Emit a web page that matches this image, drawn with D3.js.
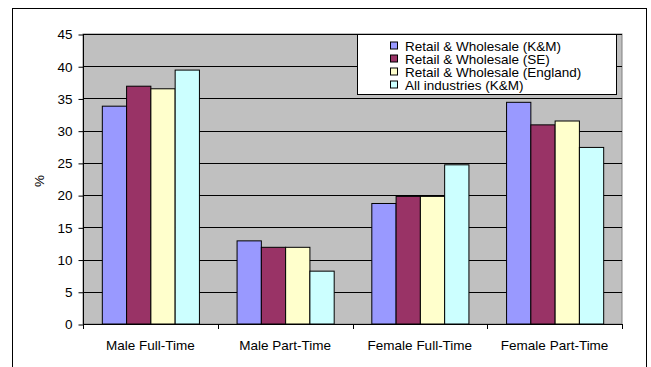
<!DOCTYPE html>
<html>
<head>
<meta charset="utf-8">
<script src="https://cdn.jsdelivr.net/npm/d3@7"></script>
<style>
  html, body { margin: 0; padding: 0; background: #fff; }
  svg { display: block; }
  text { font-family: "Liberation Sans", Arial, sans-serif; fill: #000; }
</style>
</head>
<body>
<svg id="chart" width="651" height="367"></svg>
<script>
// Employment shares by work pattern (%)
const categories = ["Male Full-Time", "Male Part-Time", "Female Full-Time", "Female Part-Time"];
const seriesNames = [
  "Retail & Wholesale (K&M)",
  "Retail & Wholesale (SE)",
  "Retail & Wholesale (England)",
  "All industries (K&M)"
];
const retailKM = [33.8, 12.9, 18.7, 34.4];
const retailSE = [36.9, 11.9, 19.8, 30.9];
const retailEngland = [36.5, 11.9, 19.8, 31.5];
const allIndustriesKM = [39.4, 8.2, 24.7, 27.4];
const yTicks = [0, 5, 10, 15, 20, 25, 30, 35, 40, 45];
const colors = ["#9999FF", "#993366", "#FFFFCC", "#CCFFFF"];

const seriesValues = [retailKM, retailSE, retailEngland, allIndustriesKM];

const svg = d3.select("#chart");
const fontSize = 13.5;

// chart frame
svg.append("rect")
  .attr("x", 12.5).attr("y", 8.5)
  .attr("width", 634).attr("height", 370)
  .attr("fill", "#fff").attr("stroke", "#000").attr("stroke-width", 1);

const plot = { left: 83, right: 622, top: 34, bottom: 324 };

const x0 = d3.scaleBand().domain(categories).range([plot.left, plot.right]).padding(0);
const gapRatio = 1.55;
const barW = x0.bandwidth() / (seriesNames.length + gapRatio);
const x1 = d3.scaleBand().domain(d3.range(seriesNames.length))
  .range([barW * gapRatio / 2, barW * gapRatio / 2 + barW * seriesNames.length]).padding(0);
const y = d3.scaleLinear().domain([0, 45]).range([plot.bottom, plot.top]);

// plot background
svg.append("rect")
  .attr("x", plot.left).attr("y", plot.top)
  .attr("width", plot.right - plot.left).attr("height", plot.bottom - plot.top)
  .attr("fill", "#C0C0C0").attr("stroke", "#808080").attr("stroke-width", 1);

// gridlines
svg.append("g").selectAll("line").data(yTicks.filter(d => d > 0)).join("line")
  .attr("x1", plot.left).attr("x2", plot.right)
  .attr("y1", d => Math.round(y(d)) + 0.5).attr("y2", d => Math.round(y(d)) + 0.5)
  .attr("stroke", "#000").attr("stroke-width", 1);

// bars
const groups = svg.append("g").selectAll("g").data(categories).join("g")
  .attr("transform", c => `translate(${x0(c)},0)`);
groups.selectAll("rect").data((c, ci) => seriesValues.map((vals, si) => ({ si, v: vals[ci] })))
  .join("rect")
  .attr("x", d => x1(d.si) + 0.5)
  .attr("y", d => y(d.v))
  .attr("width", x1.bandwidth())
  .attr("height", d => y(0) - y(d.v))
  .attr("fill", d => colors[d.si])
  .attr("stroke", "#000").attr("stroke-width", 1);

// y axis
const yAxis = d3.axisLeft(y).tickValues(yTicks).tickSize(5).tickPadding(6);
const gy = svg.append("g").attr("transform", `translate(${plot.left + 0.5},0.5)`).call(yAxis);
gy.select(".domain").attr("d", `M0,${plot.top}V${plot.bottom}`).attr("stroke", "#000");
gy.selectAll(".tick line").attr("stroke", "#000");
gy.selectAll("text").style("font-size", fontSize + "px")
  .style("font-family", '"Liberation Sans", Arial, sans-serif').attr("fill", "#000");

// x axis with ticks at category boundaries
const gx = svg.append("g");
gx.append("line")
  .attr("x1", plot.left).attr("x2", plot.right)
  .attr("y1", plot.bottom + 0.5).attr("y2", plot.bottom + 0.5)
  .attr("stroke", "#000");
const boundaries = categories.map(c => x0(c)).concat([x0(categories[categories.length - 1]) + x0.bandwidth()]);
gx.selectAll("line.tk").data(boundaries).join("line").attr("class", "tk")
  .attr("x1", d => Math.round(d) + 0.5).attr("x2", d => Math.round(d) + 0.5)
  .attr("y1", plot.bottom).attr("y2", plot.bottom + 5)
  .attr("stroke", "#000");
gx.selectAll("text").data(categories).join("text")
  .attr("x", c => x0(c) + x0.bandwidth() / 2)
  .attr("y", 350)
  .attr("text-anchor", "middle")
  .style("font-size", fontSize + "px")
  .text(c => c);

// y axis title
svg.append("text")
  .attr("transform", "translate(44,181) rotate(-90)")
  .attr("text-anchor", "middle")
  .style("font-size", fontSize + "px")
  .text("%");

// legend
const legend = { x: 357.5, y: 34.5, w: 259, h: 60 };
svg.append("rect")
  .attr("x", legend.x).attr("y", legend.y)
  .attr("width", legend.w).attr("height", legend.h)
  .attr("fill", "#fff").attr("stroke", "#000").attr("stroke-width", 1);
const items = svg.append("g").selectAll("g").data(seriesNames).join("g")
  .attr("transform", (d, i) => `translate(0,${45.5 + i * 13})`);
items.append("rect")
  .attr("x", 390.5).attr("y", -3.5).attr("width", 7).attr("height", 7)
  .attr("fill", (d, i) => colors[i]).attr("stroke", "#000").attr("stroke-width", 1);
items.append("text")
  .attr("x", 405).attr("y", 5)
  .style("font-size", fontSize + "px")
  .text(d => d);
</script>
</body>
</html>
